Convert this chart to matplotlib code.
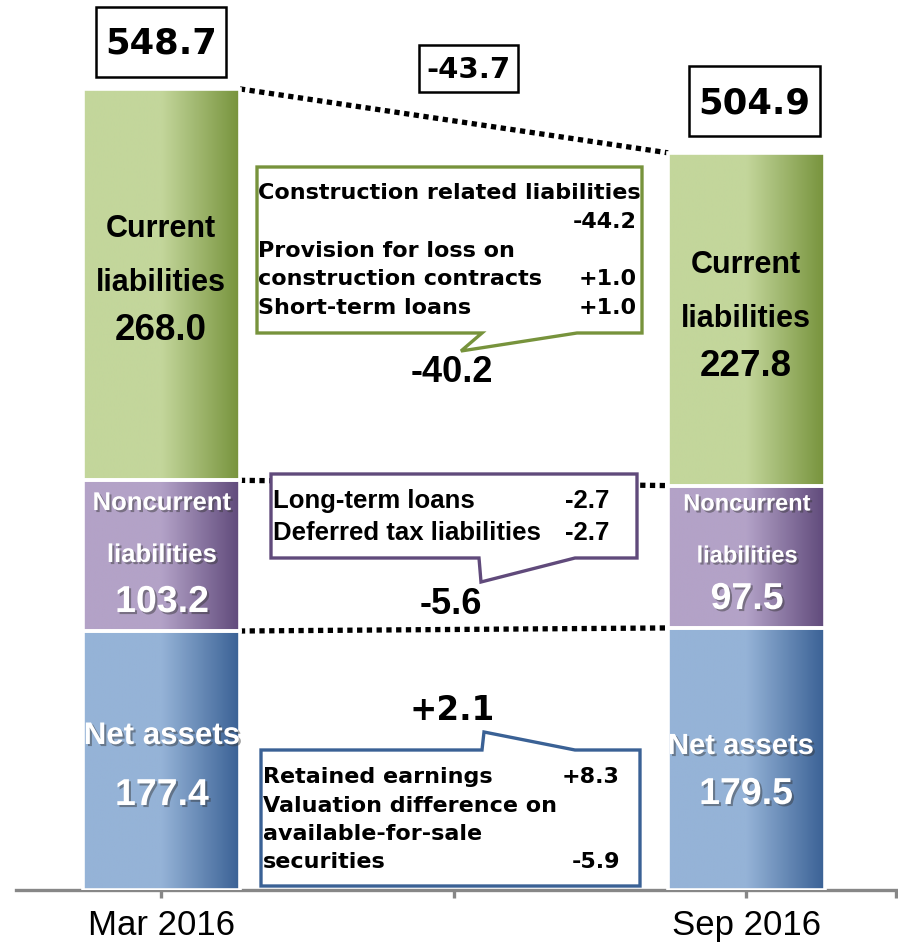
import numpy as np
import matplotlib
matplotlib.use("Agg")
import matplotlib.pyplot as plt
import matplotlib.patheffects as pe
from matplotlib.patches import Polygon, Rectangle
from matplotlib.colors import to_rgb

# balance sheet, liabilities & net assets (billion yen)
periods = ['Mar 2016', 'Sep 2016']
net_assets = [177.4, 179.5]
noncurrent = [103.2, 97.5]
current = [268.0, 227.8]
totals = [548.7, 504.9]
total_change = '-43.7'

current_change = '-40.2'
current_items = [('Construction related liabilities', ''), ('', '-44.2'),
                 ('Provision for loss on', ''), ('construction contracts', '+1.0'),
                 ('Short-term loans', '+1.0')]
noncurrent_change = '-5.6'
noncurrent_items = [('Long-term loans', '-2.7'), ('Deferred tax liabilities', '-2.7')]
net_change = '+2.1'
net_items = [('Retained earnings', '+8.3'), ('Valuation difference on', ''),
             ('available-for-sale', ''), ('securities', '-5.9')]

W, H = 898, 950
fig = plt.figure(figsize=(W / 100, H / 100), dpi=100)
ax = fig.add_axes([16 / W, 60 / H, 880 / W, 890 / H])

GREEN = ('#C3D69B', '#77933C')
PURPLE = ('#B3A2C7', '#604A7B')
BLUE = ('#95B3D7', '#3A6195')
GRAY = '#878787'
ARIAL = 'Liberation Sans'
GOTH = 'DejaVu Sans'


def P(x, y):
    # pixel (top-left origin) -> figure fraction
    return x / W, 1 - y / H


def grad(c1, c2):
    t = np.linspace(0, 1, 256)
    f = np.clip((t - 0.5) / 0.5, 0, 1)[:, None]
    row = np.array(to_rgb(c1)) * (1 - f) + np.array(to_rgb(c2)) * f
    return row[None, :, :]


xs = np.arange(len(periods))
bw = 0.268
bottoms2 = [a + b for a, b in zip(net_assets, noncurrent)]
layers = [(net_assets, [0, 0], BLUE), (noncurrent, net_assets, PURPLE),
          (current, bottoms2, GREEN)]
for vals, bots, cols in layers:
    bars = ax.bar(xs, vals, bw, bottom=bots, color='none', edgecolor='white',
                  linewidth=2.6, zorder=3)
    for b in bars:
        ax.imshow(grad(*cols), extent=[b.get_x(), b.get_x() + b.get_width(),
                                       b.get_y(), b.get_y() + b.get_height()],
                  aspect='auto', interpolation='bilinear', zorder=2)

ax.set_xlim(-0.2487, 1.2556)
ax.set_ylim(0, 890 / 1.46)
for s in ['left', 'right', 'top']:
    ax.spines[s].set_visible(False)
ax.spines['bottom'].set_color(GRAY)
ax.spines['bottom'].set_linewidth(2.4)
ax.set_yticks([])
ax.set_xticks([0, 0.5, 1, 1.2556], [periods[0], '', periods[1], ''])
ax.tick_params(axis='x', length=6, width=2.4, color=GRAY, pad=8,
               labelsize=25)
for lab in ax.get_xticklabels():
    lab.set_fontfamily(ARIAL)

# dotted connectors between the bars
left_edge = xs[1] - bw / 2
right_edge = xs[0] + bw / 2
for lv in [totals, bottoms2, net_assets]:
    ax.plot([right_edge, left_edge], [lv[0], lv[1]], color='black', lw=3.8,
            linestyle=(0, (1.0, 0.85)), dash_capstyle='butt', zorder=1)


# totals in boxes
def box(x0, y0, x1, y1, ec, lw=1.8):
    (fx0, fy1), (fx1, fy0) = P(x0, y0), P(x1, y1)
    fig.patches.append(Rectangle((fx0, fy0), fx1 - fx0, fy1 - fy0,
                                 transform=fig.transFigure, fc='white',
                                 ec=ec, lw=lw, zorder=5))


box(96, 7, 226, 77, 'black')
fig.text(*P(161, 44), f'{totals[0]:.1f}', fontsize=25.5, fontweight='bold',
         family=GOTH, ha='center', va='center', zorder=6)
box(689, 66, 820, 136, 'black')
fig.text(*P(754.5, 103), f'{totals[1]:.1f}', fontsize=25.5, fontweight='bold',
         family=GOTH, ha='center', va='center', zorder=6)
box(419, 45, 518, 92, 'black')
fig.text(*P(468.5, 70), total_change, fontsize=21, fontweight='bold',
         family=GOTH, ha='center', va='center', zorder=6)

# labels inside bars
shadow = [pe.SimplePatchShadow(offset=(1.5, -1.5), shadow_rgbFace='#333333',
                               alpha=0.45), pe.Normal()]


def lbl(x, y, s, size, color='black', fx=None, fam=ARIAL):
    fig.text(*P(x, y), s, fontsize=size, fontweight='bold', family=fam,
             ha='center', va='center', color=color, path_effects=fx, zorder=6)


lbl(161, 229, 'Current', 22)
lbl(161, 283, 'liabilities', 22)
lbl(161, 331, f'{current[0]:.1f}', 26.5)
lbl(746, 265, 'Current', 22)
lbl(746, 319, 'liabilities', 22)
lbl(746, 366, f'{current[1]:.1f}', 26.5)

lbl(162, 503, 'Noncurrent', 18.5, 'white', shadow)
lbl(162, 555, 'liabilities', 18.5, 'white', shadow)
lbl(162, 602, f'{noncurrent[0]:.1f}', 27, 'white', shadow)
lbl(747, 504, 'Noncurrent', 17, 'white', shadow)
lbl(747, 556, 'liabilities', 17, 'white', shadow)
lbl(747, 599, f'{noncurrent[1]:.1f}', 27, 'white', shadow)

lbl(162, 736, 'Net assets', 22.5, 'white', shadow)
lbl(162, 795, f'{net_assets[0]:.1f}', 27, 'white', shadow)
lbl(741, 746, 'Net assets', 21, 'white', shadow)
lbl(746, 794, f'{net_assets[1]:.1f}', 27, 'white', shadow)


# callouts
def callout(pts, ec):
    fig.patches.append(Polygon([P(*p) for p in pts], closed=True,
                               transform=fig.transFigure, fc='white', ec=ec,
                               lw=2.4, joinstyle='miter', zorder=5))


def items(rows, xl, xr, y0, dy, size, fam):
    for i, (left, right) in enumerate(rows):
        y = y0 + i * dy
        if left:
            fig.text(*P(xl, y), left, fontsize=size, fontweight='bold',
                     family=fam, ha='left', va='center', zorder=6)
        if right:
            fig.text(*P(xr, y), right, fontsize=size, fontweight='bold',
                     family=fam, ha='right', va='center', zorder=6)


callout([(257, 167), (642, 167), (642, 333), (577, 333), (461, 351),
         (482, 333), (257, 333)], GREEN[1])
items(current_items, 258, 637, 193, 28.8, 16, GOTH)
lbl(452, 372, current_change, 26)

callout([(271, 474), (637, 474), (637, 558), (575, 558), (481, 582),
         (479, 558), (271, 558)], PURPLE[1])
items(noncurrent_items, 273, 609, 501, 32, 18.5, ARIAL)
lbl(451, 605, noncurrent_change, 26)

callout([(261, 750), (482, 750), (484, 732), (575, 750), (640, 750),
         (640, 886), (261, 886)], BLUE[1])
items(net_items, 263, 620, 777, 28.5, 16, GOTH)
lbl(452, 710, net_change, 23.5, fam=[GOTH])

fig.savefig('out.png', dpi=100)
